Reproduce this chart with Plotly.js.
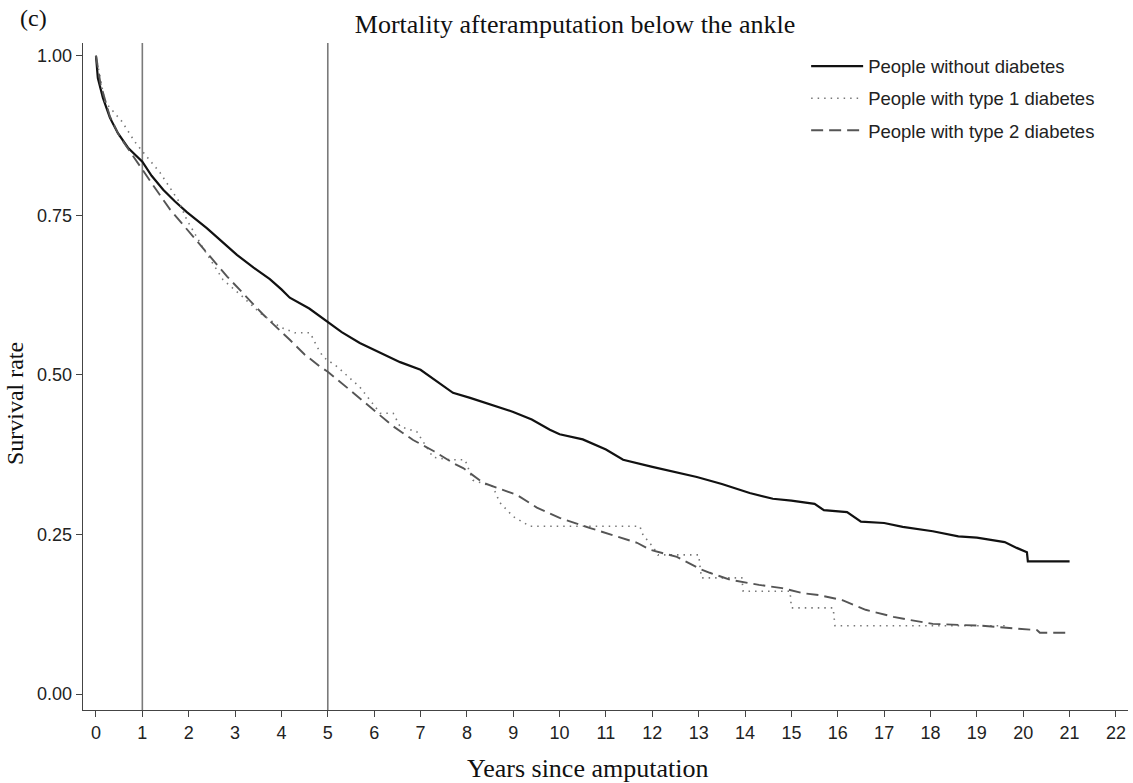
<!DOCTYPE html>
<html>
<head>
<meta charset="utf-8">
<script src="https://cdn.plot.ly/plotly-3.0.1.min.js"></script>
<style>html,body{margin:0;padding:0;background:#fff;}#chart{width:1133px;height:783px;}</style>
</head>
<body>
<div id="chart"></div>
<script>
// Years since amputation / survival rate — people without diabetes
const noDiabYears = [0,0.04,0.15,0.3,0.47,0.69,1.0,1.2,1.45,1.7,1.96,2.39,2.7,3.04,3.4,3.75,4.0,4.18,4.6,5.0,5.3,5.69,6.0,6.56,7.0,7.42,7.7,8.07,8.4,8.71,9.0,9.4,9.79,10.0,10.5,11.0,11.37,12.0,12.5,12.96,13.5,14.1,14.6,15.0,15.5,15.7,16.2,16.5,17.0,17.4,18.05,18.6,19.0,19.6,19.86,20.08,20.1,21.0];
const noDiabSurv  = [1.0,0.965,0.934,0.903,0.879,0.856,0.834,0.812,0.79,0.772,0.755,0.73,0.71,0.688,0.668,0.65,0.634,0.621,0.604,0.583,0.567,0.55,0.539,0.52,0.508,0.487,0.472,0.464,0.456,0.448,0.442,0.43,0.414,0.407,0.399,0.383,0.367,0.356,0.348,0.34,0.329,0.315,0.306,0.303,0.298,0.288,0.285,0.27,0.268,0.262,0.255,0.247,0.245,0.238,0.229,0.222,0.208,0.208];

// People with type 1 diabetes
const t1Years = [0,0.19,0.56,0.84,1.06,1.38,1.77,1.96,2.3,2.74,3.17,3.54,3.97,4.29,4.62,4.77,4.9,5.2,5.69,5.91,6.13,6.41,6.56,6.92,7.27,7.64,7.96,8.13,8.56,8.71,9.0,9.36,11.73,11.8,12.02,12.12,13.0,13.03,13.06,13.93,13.96,14.97,15.0,15.9,15.94,19.7];
const t1Surv  = [1.0,0.928,0.897,0.865,0.845,0.817,0.774,0.743,0.70,0.649,0.622,0.597,0.575,0.566,0.566,0.544,0.528,0.513,0.481,0.461,0.44,0.44,0.419,0.411,0.371,0.367,0.367,0.335,0.325,0.3,0.278,0.263,0.263,0.249,0.23,0.218,0.218,0.199,0.182,0.182,0.161,0.161,0.135,0.135,0.107,0.107];

// People with type 2 diabetes
const t2Years = [0,0.1,0.3,0.5,0.78,1.01,1.3,1.6,2.1,2.39,2.83,3.17,3.6,4.18,4.5,4.83,5.0,5.5,5.98,6.4,6.84,7.3,7.7,7.92,8.35,8.7,9.08,9.51,10.0,10.66,11.2,11.67,11.95,12.53,13.03,13.24,13.68,14.3,14.8,15.25,15.6,16.1,16.6,17.2,17.56,18.05,19.1,19.7,20.3,20.36,21.0];
const t2Surv  = [1.0,0.955,0.905,0.875,0.845,0.82,0.79,0.759,0.716,0.691,0.654,0.628,0.595,0.555,0.532,0.513,0.505,0.475,0.445,0.42,0.398,0.38,0.362,0.354,0.331,0.322,0.312,0.292,0.276,0.26,0.248,0.237,0.226,0.215,0.196,0.19,0.179,0.171,0.166,0.158,0.155,0.147,0.132,0.121,0.116,0.11,0.107,0.103,0.1,0.096,0.096];

const seriesNames = ["People without diabetes","People with type 1 diabetes","People with type 2 diabetes"];
const xTicks = [0,1,2,3,4,5,6,7,8,9,10,11,12,13,14,15,16,17,18,19,20,21,22];
const yTicks = [0,0.25,0.5,0.75,1];
const yTickText = ["0.00","0.25","0.50","0.75","1.00"];
const markerYears = [1,5];

const serif = "Liberation Serif, Times New Roman, serif";
const sans = "Liberation Sans, Arial, sans-serif";

const traces = [
  {x: noDiabYears, y: noDiabSurv, name: seriesNames[0], mode: "lines", legendgroup: "a",
   line: {color: "#111", width: 2.2}},
  {x: t1Years, y: t1Surv, name: seriesNames[1], mode: "lines", legendgroup: "b",
   line: {color: "#777", width: 1.6, dash: "1.5px,5px"}},
  {x: t2Years, y: t2Surv, name: seriesNames[2], mode: "lines", legendgroup: "c",
   line: {color: "#555", width: 1.9, dash: "12px,6px"}}
];

const shapes = markerYears.map(v => ({
  type: "line", xref: "x", yref: "paper", x0: v, x1: v, y0: 0, y1: 1,
  line: {color: "#7a7a7a", width: 1.6}, layer: "below"
}));

const layout = {
  width: 1133, height: 783,
  margin: {l: 83, r: 5, t: 43, b: 73},
  paper_bgcolor: "#fff", plot_bgcolor: "#fff",
  showlegend: true,
  title: {text: "Mortality afteramputation below the ankle", font: {family: serif, size: 26, color: "#111"},
          xref: "container", yref: "container", x: 0.5075, xanchor: "center", y: 0.969, yanchor: "middle"},
  xaxis: {range: [-0.28, 22.26], tickvals: xTicks, ticktext: xTicks.map(String),
          showline: true, linecolor: "#444", linewidth: 1.3, ticks: "outside", ticklen: 6, tickcolor: "#444",
          showgrid: false, zeroline: false, tickfont: {family: sans, size: 18, color: "#222"}, fixedrange: true},
  yaxis: {range: [-0.025, 1.02], tickvals: yTicks, ticktext: yTickText,
          showline: true, linecolor: "#444", linewidth: 1.3, ticks: "outside", ticklen: 6, tickcolor: "#444",
          showgrid: false, zeroline: false, tickfont: {family: sans, size: 18, color: "#222"}, fixedrange: true},
  legend: {x: 0.692, y: 0.993, xanchor: "left", yanchor: "top", bgcolor: "rgba(0,0,0,0)",
           font: {family: sans, size: 18.5, color: "#222"}, traceorder: "grouped", tracegroupgap: 5,
           itemwidth: 52},
  shapes: shapes,
  annotations: [
    {text: "(c)", xref: "paper", yref: "paper", x: -0.0622, y: 1.0375, xanchor: "left", yanchor: "middle",
     showarrow: false, font: {family: serif, size: 24, color: "#111"}},
    {text: "Years since amputation", xref: "paper", yref: "paper", x: 0.4823, y: -0.087, xanchor: "center", yanchor: "middle",
     showarrow: false, font: {family: serif, size: 26, color: "#111"}},
    {text: "Survival rate", xref: "paper", yref: "paper", x: -0.0795, y: 0.46, xanchor: "left", yanchor: "middle",
     textangle: -90, showarrow: false, font: {family: serif, size: 24, color: "#111"}}
  ]
};

Plotly.newPlot("chart", traces, layout, {displayModeBar: false, staticPlot: true});
</script>
</body>
</html>
